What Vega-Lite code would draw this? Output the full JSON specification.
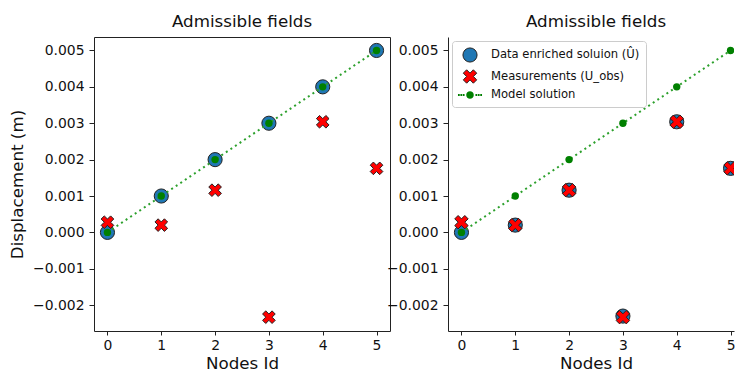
{
  "$schema": "https://vega.github.io/schema/vega-lite/v6.json",
  "padding": {"left": 9, "top": 13, "right": 0, "bottom": 0},
  "background": "white",
  "config": {
    "font": "DejaVu Sans",
    "view": {"stroke": "#222", "strokeWidth": 1},
    "axis": {
      "grid": false, "domain": false,
      "tickColor": "#222", "tickWidth": 1,
      "labelFont": "DejaVu Sans", "labelFontSize": 13.9, "labelColor": "#111",
      "titleFont": "DejaVu Sans", "titleFontSize": 16.7, "titleFontWeight": "normal", "titleColor": "#111"
    },
    "title": {"font": "DejaVu Sans", "fontSize": 16.7, "fontWeight": "normal", "color": "#111", "anchor": "middle", "frame": "group", "baseline": "alphabetic", "offset": 6},
    "legend": {
      "orient": "top-left", "offset": 4, "padding": 6, "rowPadding": 2,
      "labelFont": "DejaVu Sans", "labelFontSize": 11.6, "labelColor": "#111",
      "strokeColor": "#cccccc", "fillColor": "rgba(255,255,255,0.8)", "cornerRadius": 3,
      "symbolOffset": 4, "labelOffset": 13, "symbolStrokeWidth": 1, "symbolOpacity": 1
    }
  },
  "datasets": {
    "model": [
      {"node": 0, "u": 0.0},
      {"node": 1, "u": 0.001},
      {"node": 2, "u": 0.002},
      {"node": 3, "u": 0.003},
      {"node": 4, "u": 0.004},
      {"node": 5, "u": 0.005}
    ],
    "points": [
      {"node": 0, "u": 0.0, "series": "Data enriched soluion (Û)"},
      {"node": 1, "u": 0.0002, "series": "Data enriched soluion (Û)"},
      {"node": 2, "u": 0.00116, "series": "Data enriched soluion (Û)"},
      {"node": 3, "u": -0.0023, "series": "Data enriched soluion (Û)"},
      {"node": 4, "u": 0.00304, "series": "Data enriched soluion (Û)"},
      {"node": 5, "u": 0.00176, "series": "Data enriched soluion (Û)"},
      {"node": 0, "u": 0.00028, "series": "Measurements (U_obs)"},
      {"node": 1, "u": 0.0002, "series": "Measurements (U_obs)"},
      {"node": 2, "u": 0.00116, "series": "Measurements (U_obs)"},
      {"node": 3, "u": -0.00233, "series": "Measurements (U_obs)"},
      {"node": 4, "u": 0.00304, "series": "Measurements (U_obs)"},
      {"node": 5, "u": 0.00176, "series": "Measurements (U_obs)"}
    ]
  },
  "bounds": "flush",
  "spacing": 58,
  "resolve": {
    "scale": {"fill": "independent", "stroke": "independent", "shape": "independent", "size": "independent"},
    "legend": {"fill": "independent", "stroke": "independent", "shape": "independent", "size": "independent"}
  },
  "hconcat": [
    {
      "width": 296,
      "height": 294,
      "title": {"text": "Admissible fields"},
      "encoding": {
        "x": {"field": "node", "type": "quantitative",
          "scale": {"domain": [-0.25, 5.25], "nice": false, "zero": false},
          "axis": {"values": [0, 1, 2, 3, 4, 5], "format": "d", "title": "Nodes Id", "labelAngle": 0, "tickSize": 4, "labelPadding": 3, "titlePadding": 4}},
        "y": {"field": "u", "type": "quantitative",
          "scale": {"domain": [-0.00271, 0.00537], "nice": false, "zero": false},
          "axis": {"values": [-0.002, -0.001, 0, 0.001, 0.002, 0.003, 0.004, 0.005], "format": ".3f", "title": "Displacement (m)", "tickSize": 5, "labelPadding": 5, "titlePadding": 6}}
      },
      "layer": [
        {"data": {"name": "model"},
         "mark": {"type": "point", "shape": "circle", "filled": true, "fill": "#1f77b4", "stroke": "#222", "strokeWidth": 1, "size": 200, "opacity": 1}},
        {"data": {"name": "model"},
         "mark": {"type": "line", "color": "#2ca02c", "strokeDash": [2, 3.5], "strokeWidth": 2}},
        {"data": {"name": "model"},
         "mark": {"type": "point", "shape": "circle", "filled": true, "fill": "#008000", "strokeWidth": 0, "size": 55, "opacity": 1}},
        {"data": {"name": "points"},
         "transform": [{"filter": "datum.series === 'Measurements (U_obs)'"}],
         "mark": {"type": "point", "shape": "M -1,-0.5 L -0.5,-1 L 0,-0.5 L 0.5,-1 L 1,-0.5 L 0.5,0 L 1,0.5 L 0.5,1 L 0,0.5 L -0.5,1 L -1,0.5 L -0.5,0 Z", "filled": true, "fill": "#ff0000", "stroke": "#222", "strokeWidth": 1, "size": 160, "opacity": 1}}
      ]
    },
    {
      "width": 286,
      "height": 294,
      "view": {"stroke": null},
      "title": {"text": "Admissible fields", "dx": 5},
      "encoding": {
        "x": {"field": "node", "type": "quantitative",
          "scale": {"domain": [-0.25, 5.064], "nice": false, "zero": false},
          "axis": {"values": [0, 1, 2, 3, 4, 5], "format": "d", "title": "Nodes Id", "labelAngle": 0, "tickSize": 4, "labelPadding": 3, "titlePadding": 4, "titleX": 148, "domain": true, "domainColor": "#222", "domainWidth": 1}},
        "y": {"field": "u", "type": "quantitative",
          "scale": {"domain": [-0.00271, 0.00537], "nice": false, "zero": false},
          "axis": {"values": [-0.002, -0.001, 0, 0.001, 0.002, 0.003, 0.004, 0.005], "format": ".3f", "title": null, "tickSize": 5, "labelPadding": 5, "domain": true, "domainColor": "#222", "domainWidth": 1}}
      },
      "layer": [
        {"data": {"values": [{}]},
         "mark": {"type": "rule", "color": "#222", "strokeWidth": 1},
         "encoding": {"x": null, "y": {"datum": 0.00537}}},
        {"data": {"name": "points"},
         "mark": {"type": "point", "filled": true, "strokeWidth": 1, "opacity": 1, "clip": true},
         "encoding": {
           "fill": {"field": "series", "type": "nominal",
             "scale": {"domain": ["Data enriched soluion (Û)", "Measurements (U_obs)", "Model solution"], "range": ["#1f77b4", "#ff0000", "#008000"]},
             "legend": {"title": null}},
           "stroke": {"field": "series", "type": "nominal",
             "scale": {"domain": ["Data enriched soluion (Û)", "Measurements (U_obs)", "Model solution"], "range": ["#222222", "#222222", "transparent"]},
             "legend": {"title": null}},
           "shape": {"field": "series", "type": "nominal",
             "scale": {"domain": ["Data enriched soluion (Û)", "Measurements (U_obs)", "Model solution"], "range": ["circle", "M -1,-0.5 L -0.5,-1 L 0,-0.5 L 0.5,-1 L 1,-0.5 L 0.5,0 L 1,0.5 L 0.5,1 L 0,0.5 L -0.5,1 L -1,0.5 L -0.5,0 Z", "M -0.6,0 A 0.6,0.6 0 1,0 0.6,0 A 0.6,0.6 0 1,0 -0.6,0 Z M 0.86,-0.14 h 0.28 v 0.28 h -0.28 Z M 1.24,-0.14 h 0.28 v 0.28 h -0.28 Z M 1.62,-0.14 h 0.28 v 0.28 h -0.28 Z M -1.14,-0.14 h 0.28 v 0.28 h -0.28 Z M -1.52,-0.14 h 0.28 v 0.28 h -0.28 Z M -1.9,-0.14 h 0.28 v 0.28 h -0.28 Z"]},
             "legend": {"title": null}},
           "size": {"field": "series", "type": "nominal",
             "scale": {"domain": ["Data enriched soluion (Û)", "Measurements (U_obs)", "Model solution"], "range": [200, 160, 200]},
             "legend": {"title": null}}
         }},
        {"data": {"name": "model"},
         "mark": {"type": "line", "color": "#2ca02c", "strokeDash": [2, 3.5], "strokeWidth": 2, "clip": true}},
        {"data": {"name": "model"},
         "mark": {"type": "point", "shape": "circle", "filled": true, "fill": "#008000", "strokeWidth": 0, "size": 55, "opacity": 1, "clip": true}}
      ]
    }
  ]
}
